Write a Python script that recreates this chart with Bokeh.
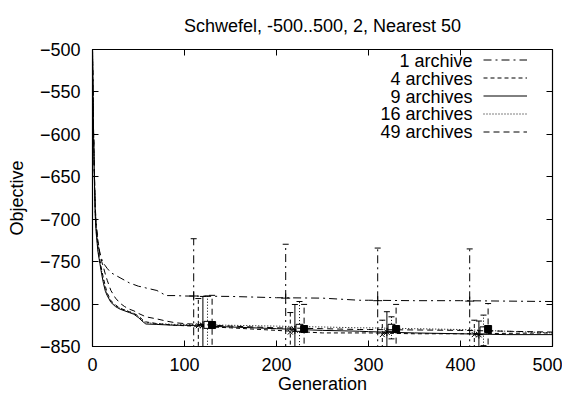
from bokeh.plotting import figure
from bokeh.models import (ColumnDataSource, Legend, LegendItem, Label, LinearAxis,
                          FixedTicker, Range1d)
from bokeh.embed import file_html
from bokeh.resources import INLINE

# ---------------- data ----------------
generation = [0, 1, 2, 3, 4, 6, 8, 10, 12, 14, 16, 20, 25, 30, 35, 40, 45, 50, 55, 58,
              70, 80, 90, 100, 150, 200, 250, 290, 300, 350, 400, 450, 500]

obj_1 = [-500, -590, -645, -688, -708, -728, -740, -747, -752, -755, -758, -763, -766, -769,
         -772, -775, -777, -779, -780, -781, -784, -790, -790, -790.5, -791, -792.5, -793,
         -795.5, -795.5, -796, -796, -796.5, -797]
obj_4 = [-500, -588, -646, -690, -710, -733, -748, -760, -770, -779, -787, -796, -801, -805,
         -807, -809, -811, -814, -819, -821, -823, -824, -825, -825.5, -828, -831, -834,
         -834, -834, -835, -835, -834.5, -834]
obj_9 = [-500, -592, -652, -697, -716, -739, -752, -765, -776, -785, -790, -798, -803, -806,
         -808, -810, -812, -816, -821, -823.5, -824, -824.5, -825, -825, -827, -829, -831,
         -832, -832.5, -834, -835, -836, -836]
obj_16 = [-500, -590, -648, -693, -713, -736, -750, -762, -773, -782, -789, -797, -802, -805,
          -807, -809, -811, -815, -820, -822, -823, -823.5, -824, -824, -825, -826, -827,
          -828, -828, -829, -830, -832, -834]
obj_49 = [-500, -585, -640, -685, -705, -726, -740, -750, -757, -765, -772, -784, -793, -799,
          -803, -806, -808, -811, -813.5, -815, -817.5, -820, -822, -823, -826, -828, -829,
          -830, -830, -830.5, -831, -832, -833]

# error bars (generation, mean, half-width)
eb_gen_1 = [110, 210, 310, 410]
eb_mean_1 = [-790.5, -793, -796, -796.5]
eb_err_1 = [67.5, 63.5, 62, 61.5]

eb_gen_4 = [115, 215, 315, 415]
eb_mean_4 = [-825.5, -833, -836, -836]
eb_err_4 = [32, 23, 17, 17]

eb_gen_9 = [120, 220, 320, 420]
eb_mean_9 = [-825, -830.5, -833, -836]
eb_err_9 = [34, 30, 24, 16]

eb_gen_16 = [125, 225, 325, 425]
eb_mean_16 = [-824.5, -828, -828, -831]
eb_err_16 = [34, 31, 13, 18]

eb_gen_49 = [130, 230, 330, 430]
eb_mean_49 = [-824.7, -829.4, -829.4, -829.4]
eb_err_49 = [35, 29, 29, 30]

labels = ["1 archive", "4 archives", "9 archives", "16 archives", "49 archives"]
x_ticks = [0, 100, 200, 300, 400, 500]
y_ticks = [-850, -800, -750, -700, -650, -600, -550, -500]

FONT = "Liberation Sans"
FS = "18px"

p = figure(width=562, height=403, output_backend="svg", toolbar_location=None,
           x_range=Range1d(0, 500), y_range=Range1d(-850, -500),
           min_border_left=92, min_border_right=10, min_border_top=46,
           min_border_bottom=57, title="Schwefel, -500..500, 2, Nearest 50")
p.title.align = "center"
p.title.text_font = FONT
p.title.text_font_size = FS
p.title.text_font_style = "normal"
p.title.text_color = "black"
p.title.standoff = 27
p.background_fill_color = "white"
p.border_fill_color = "white"
p.outline_line_color = "black"
p.outline_line_width = 1.2
p.grid.visible = False

for ax in (p.xaxis[0], p.yaxis[0]):
    ax.major_tick_in = 6
    ax.major_tick_out = 0
    ax.minor_tick_line_color = None
    ax.axis_line_color = "black"
    ax.major_tick_line_color = "black"
    ax.major_label_text_font = FONT
    ax.major_label_text_font_size = FS
    ax.major_label_text_color = "black"
    ax.axis_label_text_font = FONT
    ax.axis_label_text_font_size = FS
    ax.axis_label_text_font_style = "normal"
    ax.axis_label_text_color = "black"
p.xaxis[0].ticker = FixedTicker(ticks=x_ticks)
p.yaxis[0].ticker = FixedTicker(ticks=y_ticks)
p.xaxis[0].axis_label = "Generation"
p.yaxis[0].axis_label = "Objective"
p.xaxis[0].major_label_standoff = 11
p.yaxis[0].major_label_standoff = 12
p.xaxis[0].axis_label_standoff = 0
p.yaxis[0].axis_label_standoff = 10

# mirror ticks (no labels drawn)
top_ax = LinearAxis(ticker=FixedTicker(ticks=x_ticks))
right_ax = LinearAxis(ticker=FixedTicker(ticks=y_ticks))
for ax in (top_ax, right_ax):
    ax.major_tick_in = 6
    ax.major_tick_out = 0
    ax.minor_tick_line_color = None
    ax.axis_line_color = None
    ax.major_label_text_font_size = "1px"
    ax.major_label_text_color = None
    ax.major_label_text_alpha = 0
    ax.major_label_standoff = 0
    ax.major_tick_line_color = "black"
p.add_layout(top_ax, "above")
p.add_layout(right_ax, "right")

dashes = ["8 4 2 4", "4 3", "solid", "1 2", "6 4"]
series = [obj_1, obj_4, obj_9, obj_16, obj_49]
eb = [(eb_gen_1, eb_mean_1, eb_err_1, "cross", 9),
      (eb_gen_4, eb_mean_4, eb_err_4, "x", 7),
      (eb_gen_9, eb_mean_9, eb_err_9, "asterisk", 8),
      (eb_gen_16, eb_mean_16, eb_err_16, "square", 7),
      (eb_gen_49, eb_mean_49, eb_err_49, "square", 7)]

line_renderers = []
for i, (vals, dash) in enumerate(zip(series, dashes)):
    src = ColumnDataSource(dict(x=generation, y=vals))
    r = p.line("x", "y", source=src, line_color="black", line_width=1, line_dash=dash)
    line_renderers.append(r)

    gx, gm, ge, marker, size = eb[i]
    lo = [m - e for m, e in zip(gm, ge)]
    hi = [m + e for m, e in zip(gm, ge)]
    esrc = ColumnDataSource(dict(x=gx, m=gm, lo=lo, hi=hi))
    p.segment(x0="x", y0="lo", x1="x", y1="hi", source=esrc, line_color="black",
              line_width=1, line_dash=dash)
    p.scatter("x", "hi", source=esrc, marker="dash", size=6, line_color="black", line_width=1)
    p.scatter("x", "lo", source=esrc, marker="dash", size=6, line_color="black", line_width=1)
    if i == 4:
        p.scatter("x", "m", source=esrc, marker=marker, size=size, line_color="black",
                  fill_color="black", line_width=1)
    else:
        p.scatter("x", "m", source=esrc, marker=marker, size=size, line_color="black",
                  fill_color="white" if marker == "square" else None, line_width=1)

# legend: text on the left, sample on the right (gnuplot style)
legend = Legend(items=[LegendItem(label=" ", renderers=[r]) for r in line_renderers],
                location=(391, 206), glyph_width=44, glyph_height=17, label_height=17,
                label_width=0, label_standoff=0, spacing=1, padding=0, margin=0,
                border_line_color=None, background_fill_alpha=0,
                label_text_font_size="10px", label_text_color=None, label_text_alpha=0)
p.add_layout(legend, "center")

row_y = [286, 268, 250, 232.5, 215]
for lab, yy in zip(labels, row_y):
    p.add_layout(Label(x=380, y=yy, x_units="screen", y_units="screen", text=lab,
                       text_align="right", text_baseline="middle", text_font=FONT,
                       text_font_size=FS, text_color="black"))

open("out.html", "w").write(file_html(p, INLINE))
